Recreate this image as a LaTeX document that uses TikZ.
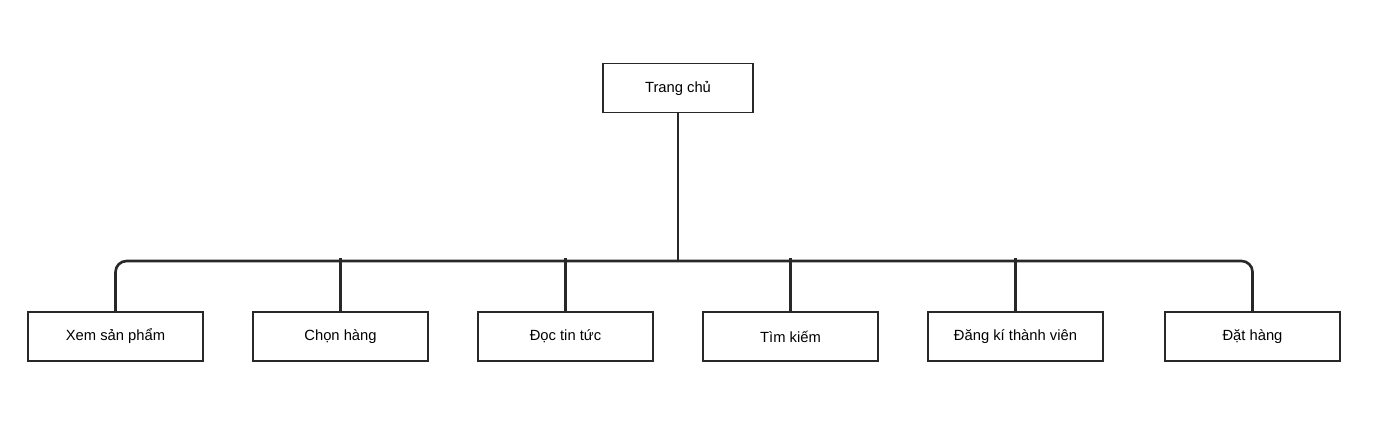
\documentclass[tikz,border=0pt]{standalone}
\usepackage{fontspec}
\setmainfont{Liberation Sans}
\usetikzlibrary{positioning}
\definecolor{lineGray}{RGB}{40,40,40}

\begin{document}
\begin{tikzpicture}[
  page/.style={draw=lineGray, line width=1.1pt, fill=white, minimum width=3.5cm,
    minimum height=0.98cm, align=center, font=\fontsize{8.4}{10}\selectfont},
  link/.style={draw=lineGray, line width=1.5pt}
]
  \useasboundingbox (0,0) rectangle (27.58,8.88);
  \coordinate (bus) at (0,3.66);
  \node[page, minimum width=3cm] (home) at (13.56,7.12) {Trang chủ};
  \node[page] (view)   at ( 2.31,2.15) {Xem sản phẩm};
  \node[page] (pick)   at ( 6.81,2.15) {Chọn hàng};
  \node[page] (news)   at (11.31,2.15) {Đọc tin tức};
  \node[page] (search) at (15.81,2.15) {Tìm kiếm};
  \node[page] (signup) at (20.31,2.15) {Đăng kí thành viên};
  \node[page] (order)  at (25.05,2.15) {Đặt hàng};
  \draw[link] (home.south) -- (home.south |- bus);
  \draw[link, rounded corners=0.22cm] (view.north) -- (view.north |- bus)
    -- (order.north |- bus) -- (order.north);
  \draw[link] (pick.north) -- ([yshift=0.06cm]pick.north |- bus);
  \draw[link] (news.north) -- ([yshift=0.06cm]news.north |- bus);
  \draw[link] (search.north) -- ([yshift=0.06cm]search.north |- bus);
  \draw[link] (signup.north) -- ([yshift=0.06cm]signup.north |- bus);
\end{tikzpicture}
\end{document}
